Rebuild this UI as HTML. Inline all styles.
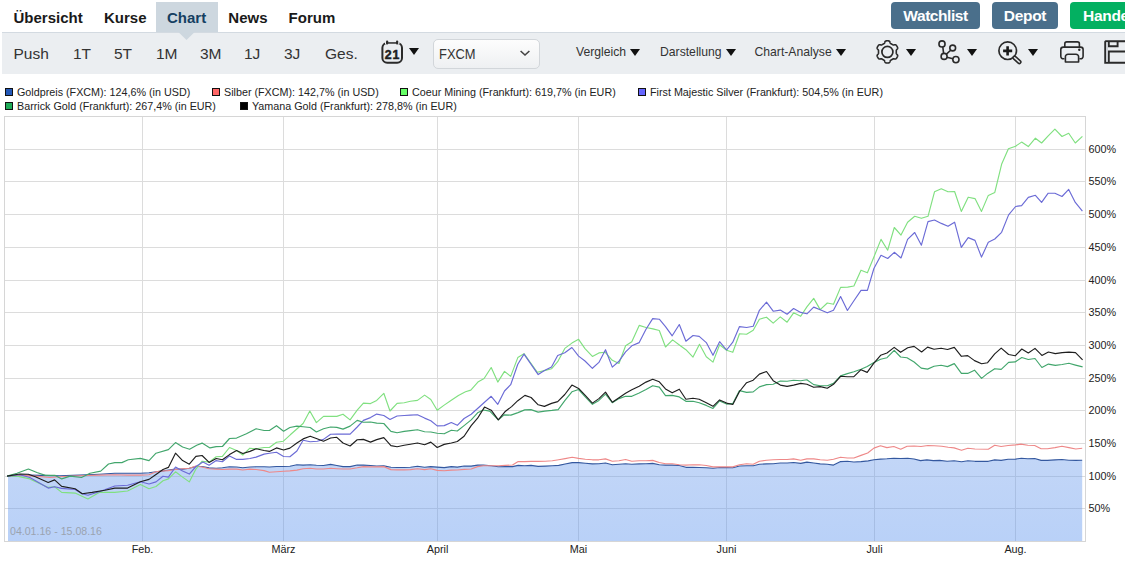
<!DOCTYPE html>
<html lang="de">
<head>
<meta charset="utf-8">
<title>Chart</title>
<style>
*{box-sizing:border-box;margin:0;padding:0}
html,body{width:1125px;height:564px;overflow:hidden;background:#fff}
body{position:relative;font-family:"Liberation Sans",sans-serif;color:#222}
.abs{position:absolute;white-space:nowrap}
.nav{position:absolute;top:0;left:0;width:1125px;height:32px}
.nav .t{position:absolute;top:7.7px;font-size:15px;font-weight:bold;color:#1a1a1a;line-height:20px}
.nav .act{position:absolute;left:156px;top:2px;width:62px;height:30px;background:#cdd7df}

.btn{position:absolute;top:2px;height:27px;border-radius:4px;color:#fff;font-size:15.5px;font-weight:bold;line-height:27px;text-align:center}
.bar{position:absolute;left:2px;top:32px;width:1123px;height:42px;background:#ebeef1;border-top:1px solid #d3dae1}
.bar .p{position:absolute;top:11px;font-size:15.5px;color:#333;line-height:20px}
.bar .d{position:absolute;top:11px;font-size:12.2px;color:#333;line-height:16px}
.tri{position:absolute;width:0;height:0;border-left:5.8px solid transparent;border-right:5.8px solid transparent;border-top:7px solid #111}
.sel{position:absolute;left:430.5px;top:6px;width:107px;height:29.5px;border:1px solid #d2d6da;border-radius:5px;background:linear-gradient(#fdfdfd,#eef0f2)}
.leg{position:absolute;font-size:10.75px;color:#222;line-height:13px}
.sq{position:absolute;width:8px;height:8px;border:1px solid #111}
.yl{position:absolute;left:1088.6px;font-size:10.8px;line-height:13px;color:#222}
.xl{position:absolute;top:543px;width:80px;text-align:center;font-size:10.8px;line-height:13px;color:#222}
.chart{position:absolute;left:0;top:0}
</style>
</head>
<body>
<!-- top nav -->
<div class="nav">
  <div class="t" style="left:13.5px">Übersicht</div>
  <div class="t" style="left:104px">Kurse</div>
  <div class="act"></div>
  <div class="t" style="left:167px;color:#153f62">Chart</div>
  <div class="t" style="left:228.3px">News</div>
  <div class="t" style="left:288.6px">Forum</div>
</div>
<div class="btn" style="left:891px;width:89px;background:#4a6f8b;letter-spacing:-0.45px">Watchlist</div>
<div class="btn" style="left:992px;width:66px;background:#4a6f8b;letter-spacing:-0.3px">Depot</div>
<div class="btn" style="left:1070px;width:70px;background:#03b061;text-align:left;padding-left:13px;letter-spacing:-0.3px">Handel</div>

<!-- toolbar -->
<div class="bar">
  <div class="p" style="left:11.5px">Push</div>
  <div class="p" style="left:71px">1T</div>
  <div class="p" style="left:112px">5T</div>
  <div class="p" style="left:154px">1M</div>
  <div class="p" style="left:198px">3M</div>
  <div class="p" style="left:242px">1J</div>
  <div class="p" style="left:282px">3J</div>
  <div class="p" style="left:323px">Ges.</div>
  <div class="tri" style="left:407px;top:15px"></div>
  <div class="sel"></div>
  <div class="p" style="left:437px;top:11px;font-size:15px;transform:scaleX(0.86);transform-origin:0 0">FXCM</div>
  <div class="d" style="left:574px">Vergleich</div>
  <div class="tri" style="left:628px;top:16px"></div>
  <div class="d" style="left:658px">Darstellung</div>
  <div class="tri" style="left:723.5px;top:16px"></div>
  <div class="d" style="left:752.5px">Chart-Analyse</div>
  <div class="tri" style="left:834px;top:16px"></div>
  <div class="tri" style="left:903.5px;top:16px"></div>
  <div class="tri" style="left:964.5px;top:16px"></div>
  <div class="tri" style="left:1026px;top:16px"></div>
</div>

<svg class="abs" style="left:0;top:0" width="1125" height="80" viewBox="0 0 1125 80">
  <!-- Chart tab pointer -->
  <path d="M178.3 32 L194.7 32 L186.5 40 Z" fill="#cdd7df"/>
  <!-- calendar -->
  <rect x="382.4" y="43" width="19.6" height="19.8" rx="4.8" fill="none" stroke="#2a2a2a" stroke-width="2"/>
  <rect x="385" y="40.5" width="14.5" height="3.6" fill="#ebeef1"/>
  <rect x="386" y="40.6" width="2.2" height="4" rx="1" fill="#2a2a2a"/>
  <rect x="396" y="40.6" width="2.2" height="4" rx="1" fill="#2a2a2a"/>
  <rect x="388" y="42.2" width="8" height="1.5" fill="#2a2a2a"/>
  <text x="392.4" y="58.7" text-anchor="middle" font-family="Liberation Sans" font-weight="bold" font-size="12.3" fill="#1e1e1e" stroke="#1e1e1e" stroke-width="0.5" letter-spacing="0.8">21</text>
  <!-- select chevron -->
  <path d="M520.6 51 L525 55 L529.4 51" fill="none" stroke="#444" stroke-width="1.6"/>
  <!-- gear -->
  <path d="M896.30,51.90 L896.30,52.06 L896.30,52.21 L896.29,52.37 L896.29,52.52 L896.28,52.68 L896.28,52.83 L896.28,52.99 L896.28,53.15 L896.30,53.31 L896.33,53.47 L896.39,53.65 L896.49,53.83 L896.64,54.03 L896.84,54.25 L897.06,54.49 L897.28,54.73 L897.46,54.97 L897.58,55.21 L897.65,55.43 L897.67,55.64 L897.66,55.84 L897.63,56.03 L897.58,56.22 L897.52,56.40 L897.45,56.58 L897.37,56.76 L897.29,56.94 L897.20,57.11 L897.11,57.28 L897.01,57.45 L896.91,57.62 L896.81,57.78 L896.71,57.94 L896.59,58.10 L896.48,58.26 L896.36,58.41 L896.23,58.55 L896.09,58.69 L895.94,58.82 L895.77,58.93 L895.58,59.01 L895.36,59.06 L895.09,59.07 L894.79,59.04 L894.47,58.97 L894.16,58.90 L893.87,58.84 L893.62,58.81 L893.41,58.81 L893.23,58.85 L893.07,58.90 L892.92,58.97 L892.78,59.04 L892.65,59.12 L892.51,59.20 L892.38,59.29 L892.25,59.37 L892.12,59.45 L891.98,59.53 L891.85,59.61 L891.72,59.68 L891.58,59.76 L891.44,59.83 L891.31,59.91 L891.17,59.98 L891.03,60.06 L890.89,60.13 L890.76,60.22 L890.63,60.31 L890.50,60.42 L890.38,60.56 L890.27,60.74 L890.17,60.97 L890.08,61.25 L889.99,61.56 L889.89,61.87 L889.77,62.15 L889.63,62.37 L889.47,62.54 L889.30,62.67 L889.12,62.76 L888.94,62.82 L888.75,62.87 L888.56,62.91 L888.37,62.94 L888.17,62.96 L887.98,62.98 L887.79,62.99 L887.59,63.00 L887.40,63.00 L887.21,63.00 L887.01,62.99 L886.82,62.98 L886.63,62.96 L886.43,62.94 L886.24,62.91 L886.05,62.87 L885.86,62.82 L885.68,62.76 L885.50,62.67 L885.33,62.54 L885.17,62.37 L885.03,62.15 L884.91,61.87 L884.81,61.56 L884.72,61.25 L884.63,60.97 L884.53,60.74 L884.42,60.56 L884.30,60.42 L884.17,60.31 L884.04,60.22 L883.91,60.13 L883.77,60.06 L883.63,59.98 L883.49,59.91 L883.36,59.83 L883.22,59.76 L883.08,59.68 L882.95,59.61 L882.82,59.53 L882.68,59.45 L882.55,59.37 L882.42,59.29 L882.29,59.20 L882.15,59.12 L882.02,59.04 L881.88,58.97 L881.73,58.90 L881.57,58.85 L881.39,58.81 L881.18,58.81 L880.93,58.84 L880.64,58.90 L880.33,58.97 L880.01,59.04 L879.71,59.07 L879.44,59.06 L879.22,59.01 L879.03,58.93 L878.86,58.82 L878.71,58.69 L878.57,58.55 L878.44,58.41 L878.32,58.26 L878.21,58.10 L878.09,57.94 L877.99,57.78 L877.89,57.62 L877.79,57.45 L877.69,57.28 L877.60,57.11 L877.51,56.94 L877.43,56.76 L877.35,56.58 L877.28,56.40 L877.22,56.22 L877.17,56.03 L877.14,55.84 L877.13,55.64 L877.15,55.43 L877.22,55.21 L877.34,54.97 L877.52,54.73 L877.74,54.49 L877.96,54.25 L878.16,54.03 L878.31,53.83 L878.41,53.65 L878.47,53.47 L878.50,53.31 L878.52,53.15 L878.52,52.99 L878.52,52.83 L878.52,52.68 L878.51,52.52 L878.51,52.37 L878.50,52.21 L878.50,52.06 L878.50,51.90 L878.50,51.74 L878.50,51.59 L878.51,51.43 L878.51,51.28 L878.52,51.12 L878.52,50.97 L878.52,50.81 L878.52,50.65 L878.50,50.49 L878.47,50.33 L878.41,50.15 L878.31,49.97 L878.16,49.77 L877.96,49.55 L877.74,49.31 L877.52,49.07 L877.34,48.83 L877.22,48.59 L877.15,48.37 L877.13,48.16 L877.14,47.96 L877.17,47.77 L877.22,47.58 L877.28,47.40 L877.35,47.22 L877.43,47.04 L877.51,46.86 L877.60,46.69 L877.69,46.52 L877.79,46.35 L877.89,46.18 L877.99,46.02 L878.09,45.86 L878.21,45.70 L878.32,45.54 L878.44,45.39 L878.57,45.25 L878.71,45.11 L878.86,44.98 L879.03,44.87 L879.22,44.79 L879.44,44.74 L879.71,44.73 L880.01,44.76 L880.33,44.83 L880.64,44.90 L880.93,44.96 L881.18,44.99 L881.39,44.99 L881.57,44.95 L881.73,44.90 L881.88,44.83 L882.02,44.76 L882.15,44.68 L882.29,44.60 L882.42,44.51 L882.55,44.43 L882.68,44.35 L882.82,44.27 L882.95,44.19 L883.08,44.12 L883.22,44.04 L883.36,43.97 L883.49,43.89 L883.63,43.82 L883.77,43.74 L883.91,43.67 L884.04,43.58 L884.17,43.49 L884.30,43.38 L884.42,43.24 L884.53,43.06 L884.63,42.83 L884.72,42.55 L884.81,42.24 L884.91,41.93 L885.03,41.65 L885.17,41.43 L885.33,41.26 L885.50,41.13 L885.68,41.04 L885.86,40.98 L886.05,40.93 L886.24,40.89 L886.43,40.86 L886.63,40.84 L886.82,40.82 L887.01,40.81 L887.21,40.80 L887.40,40.80 L887.59,40.80 L887.79,40.81 L887.98,40.82 L888.17,40.84 L888.37,40.86 L888.56,40.89 L888.75,40.93 L888.94,40.98 L889.12,41.04 L889.30,41.13 L889.47,41.26 L889.63,41.43 L889.77,41.65 L889.89,41.93 L889.99,42.24 L890.08,42.55 L890.17,42.83 L890.27,43.06 L890.38,43.24 L890.50,43.38 L890.63,43.49 L890.76,43.58 L890.89,43.67 L891.03,43.74 L891.17,43.82 L891.31,43.89 L891.44,43.97 L891.58,44.04 L891.72,44.12 L891.85,44.19 L891.98,44.27 L892.12,44.35 L892.25,44.43 L892.38,44.51 L892.51,44.60 L892.65,44.68 L892.78,44.76 L892.92,44.83 L893.07,44.90 L893.23,44.95 L893.41,44.99 L893.62,44.99 L893.87,44.96 L894.16,44.90 L894.47,44.83 L894.79,44.76 L895.09,44.73 L895.36,44.74 L895.58,44.79 L895.77,44.87 L895.94,44.98 L896.09,45.11 L896.23,45.25 L896.36,45.39 L896.48,45.54 L896.59,45.70 L896.71,45.86 L896.81,46.02 L896.91,46.18 L897.01,46.35 L897.11,46.52 L897.20,46.69 L897.29,46.86 L897.37,47.04 L897.45,47.22 L897.52,47.40 L897.58,47.58 L897.63,47.77 L897.66,47.96 L897.67,48.16 L897.65,48.37 L897.58,48.59 L897.46,48.83 L897.28,49.07 L897.06,49.31 L896.84,49.55 L896.64,49.77 L896.49,49.97 L896.39,50.15 L896.33,50.33 L896.30,50.49 L896.28,50.65 L896.28,50.81 L896.28,50.97 L896.28,51.12 L896.29,51.28 L896.29,51.43 L896.30,51.59 L896.30,51.74Z" fill="none" stroke="#2a2a2a" stroke-width="1.6" stroke-linejoin="round"/><circle cx="887.4" cy="51.9" r="5.5" fill="none" stroke="#2a2a2a" stroke-width="1.7"/>
  <!-- network -->
  <g fill="none" stroke="#2a2a2a" stroke-width="1.6">
    <circle cx="942" cy="43.9" r="3.05"/>
    <circle cx="952.7" cy="48" r="2.9"/>
    <circle cx="944.1" cy="56.4" r="3"/>
    <circle cx="955.9" cy="59.6" r="3.1"/>
    <path d="M942.8 46.9 L943.6 53.3 M946.4 54.2 L950.4 50.5 M947 57.2 L952.9 58.8"/>
  </g>
  <!-- zoom -->
  <circle cx="1007.7" cy="50.7" r="8.8" fill="none" stroke="#2a2a2a" stroke-width="1.7"/>
  <path d="M1003.1 50.9 H1012.2 M1007.6 46.2 V55.6" stroke="#1a1a1a" stroke-width="2.6"/>
  <path d="M1014.6 57.8 L1019.3 62" stroke="#2a2a2a" stroke-width="4.6" stroke-linecap="round"/>
  <path d="M1014.6 57.8 L1019.3 62" stroke="#ebeef1" stroke-width="1.5" stroke-linecap="round"/>
  <!-- printer -->
  <g fill="none" stroke="#2a2a2a" stroke-width="1.6">
    <path d="M1064.8 47 V43.9 a2 2 0 0 1 2 -2 H1077.4 a2 2 0 0 1 2 2 V47"/>
    <path d="M1064.5 58.8 H1063.3 a2.5 2.5 0 0 1 -2.5 -2.5 V49.6 a2.5 2.5 0 0 1 2.5 -2.5 H1080.6 a2.5 2.5 0 0 1 2.5 2.5 V56.3 a2.5 2.5 0 0 1 -2.5 2.5 H1079.4"/>
    <path d="M1065.4 62 V56.8 a2.6 2.6 0 0 1 2.6 -2.6 H1076 a2.6 2.6 0 0 1 2.6 2.6 V62 Z" stroke-linejoin="round"/>
  </g>
  <circle cx="1079.3" cy="49.7" r="1.2" fill="#2a2a2a"/>
  <!-- save -->
  <g fill="none" stroke="#2a2a2a" stroke-width="1.9">
    <path d="M1105.2 41.2 H1128 M1105.2 41.2 V62.7 H1128 M1106.2 41.2 a1 1 0 0 0 -1 1"/>
    <path d="M1108.8 41.2 V46.3 H1117.6 V41.2"/>
    <path d="M1108.8 62.7 V51.5 H1128"/>
  </g>
  <rect x="1106.2" y="42.2" width="1.6" height="19.6" fill="#c9cdd1"/>
</svg>

<!-- legend -->
<div class="sq" style="left:5px;top:88px;background:#2358b8"></div>
<div class="leg" style="left:17px;top:86px">Goldpreis (FXCM): 124,6% (in USD)</div>
<div class="sq" style="left:212px;top:88px;background:#f66"></div>
<div class="leg" style="left:224px;top:86px">Silber (FXCM): 142,7% (in USD)</div>
<div class="sq" style="left:400px;top:88px;background:#6f6"></div>
<div class="leg" style="left:412px;top:86px">Coeur Mining (Frankfurt): 619,7% (in EUR)</div>
<div class="sq" style="left:638px;top:88px;background:#66f"></div>
<div class="leg" style="left:650px;top:86px">First Majestic Silver (Frankfurt): 504,5% (in EUR)</div>
<div class="sq" style="left:5px;top:102px;background:#1fab58"></div>
<div class="leg" style="left:17px;top:100px">Barrick Gold (Frankfurt): 267,4% (in EUR)</div>
<div class="sq" style="left:240px;top:102px;background:#000"></div>
<div class="leg" style="left:252px;top:100px">Yamana Gold (Frankfurt): 278,8% (in EUR)</div>

<!-- chart -->
<svg class="chart" width="1125" height="564" viewBox="0 0 1125 564">
<defs><linearGradient id="gf" x1="0" y1="0" x2="0" y2="1"><stop offset="0" stop-color="rgb(110,157,236)"/><stop offset="1" stop-color="rgb(88,145,238)"/></linearGradient></defs>
<rect x="4" y="508" width="1082" height="1" fill="#dcdcdc"/>
<rect x="4" y="476" width="1082" height="1" fill="#dcdcdc"/>
<rect x="4" y="443" width="1082" height="1" fill="#dcdcdc"/>
<rect x="4" y="410" width="1082" height="1" fill="#dcdcdc"/>
<rect x="4" y="378" width="1082" height="1" fill="#dcdcdc"/>
<rect x="4" y="345" width="1082" height="1" fill="#dcdcdc"/>
<rect x="4" y="312" width="1082" height="1" fill="#dcdcdc"/>
<rect x="4" y="280" width="1082" height="1" fill="#dcdcdc"/>
<rect x="4" y="247" width="1082" height="1" fill="#dcdcdc"/>
<rect x="4" y="214" width="1082" height="1" fill="#dcdcdc"/>
<rect x="4" y="181" width="1082" height="1" fill="#dcdcdc"/>
<rect x="4" y="149" width="1082" height="1" fill="#dcdcdc"/>
<rect x="142" y="116" width="1" height="425" fill="#dcdcdc"/>
<rect x="283" y="116" width="1" height="425" fill="#dcdcdc"/>
<rect x="437" y="116" width="1" height="425" fill="#dcdcdc"/>
<rect x="578" y="116" width="1" height="425" fill="#dcdcdc"/>
<rect x="726" y="116" width="1" height="425" fill="#dcdcdc"/>
<rect x="874" y="116" width="1" height="425" fill="#dcdcdc"/>
<rect x="1015" y="116" width="1" height="425" fill="#dcdcdc"/>
<polygon points="8,476.1 17.0,475.7 28.4,475.1 42.5,475.4 59.5,475.7 79.4,475.1 99.2,474.2 114.8,473.2 127.6,473.2 140.4,473.2 149.0,472.8 156.0,471.8 163.0,470.9 168.4,470.0 175.5,469.1 182.6,469.1 189.3,468.3 195.9,466.5 202.1,466.5 209.1,467.9 216.2,468.3 222.4,467.7 229.5,466.7 236.6,467.0 242.8,467.7 249.9,467.0 256.1,466.7 264.1,466.7 269.4,467.0 276.5,466.5 283.6,466.5 289.9,466.3 296.9,464.8 303.1,465.1 310.2,464.8 316.4,465.3 323.5,465.5 330.6,464.4 336.8,465.5 343.0,466.6 350.1,466.6 357.2,465.0 363.4,465.1 370.5,465.5 376.7,466.0 383.8,465.9 390.9,467.3 397.1,467.5 404.2,467.5 410.4,467.3 417.5,466.2 424.6,467.3 430.8,466.6 437.2,467.1 444.2,467.6 451.3,466.6 457.3,467.1 464.1,466.0 471.2,466.1 477.6,465.1 483.3,465.1 491.2,465.7 498.3,466.8 505.4,466.6 512.5,466.6 518.2,465.4 524.6,465.8 531.0,465.4 538.1,466.4 545.2,466.1 552.3,465.7 558.7,465.4 565.1,464.0 572.2,462.6 578.6,462.6 585.3,463.2 592.4,463.9 598.9,463.7 605.5,463.0 612.3,464.8 619.0,464.3 625.6,463.7 631.8,464.3 639.2,463.9 646.0,463.7 652.7,463.4 659.3,464.8 665.5,465.1 672.2,465.1 679.3,465.5 685.9,467.3 693.0,467.3 699.2,467.5 706.3,467.8 713.0,468.3 719.6,467.5 726.6,467.6 732.8,467.8 739.5,466.0 746.6,465.7 753.2,465.7 759.4,464.3 766.5,463.9 773.2,463.7 780.3,463.0 787.1,463.0 793.6,462.5 800.7,463.4 806.9,462.1 813.7,463.0 820.2,463.9 827.3,464.3 833.5,465.1 840.6,461.6 847.4,461.2 853.9,462.0 861.0,461.6 868.2,460.9 873.9,459.7 880.5,459.1 886.9,458.8 893.8,458.3 900.7,458.5 907.7,458.3 914.1,459.0 920.5,460.6 926.9,459.9 933.3,460.6 939.7,460.4 947.1,461.3 954.1,460.7 961.5,461.7 967.9,460.7 974.9,461.3 988.3,461.3 994.7,459.9 1001.1,460.4 1008.1,459.3 1015.5,459.1 1021.4,458.3 1027.8,458.8 1034.7,458.5 1041.1,460.4 1047.5,460.4 1055.0,459.9 1061.9,459.5 1068.9,460.2 1075.8,460.4 1082.2,460.2 1082.2,541 8,541" fill="url(#gf)" fill-opacity="0.42"/>
<rect x="4.5" y="116.5" width="1081" height="425" fill="none" stroke="#d6d6d6" stroke-width="1"/>
<polyline points="7.1,476.1 17.0,475.7 28.4,475.1 42.5,475.4 59.5,475.7 79.4,475.1 99.2,474.2 114.8,473.2 127.6,473.2 140.4,473.2 149.0,472.8 156.0,471.8 163.0,470.9 168.4,470.0 175.5,469.1 182.6,469.1 189.3,468.3 195.9,466.5 202.1,466.5 209.1,467.9 216.2,468.3 222.4,467.7 229.5,466.7 236.6,467.0 242.8,467.7 249.9,467.0 256.1,466.7 264.1,466.7 269.4,467.0 276.5,466.5 283.6,466.5 289.9,466.3 296.9,464.8 303.1,465.1 310.2,464.8 316.4,465.3 323.5,465.5 330.6,464.4 336.8,465.5 343.0,466.6 350.1,466.6 357.2,465.0 363.4,465.1 370.5,465.5 376.7,466.0 383.8,465.9 390.9,467.3 397.1,467.5 404.2,467.5 410.4,467.3 417.5,466.2 424.6,467.3 430.8,466.6 437.2,467.1 444.2,467.6 451.3,466.6 457.3,467.1 464.1,466.0 471.2,466.1 477.6,465.1 483.3,465.1 491.2,465.7 498.3,466.8 505.4,466.6 512.5,466.6 518.2,465.4 524.6,465.8 531.0,465.4 538.1,466.4 545.2,466.1 552.3,465.7 558.7,465.4 565.1,464.0 572.2,462.6 578.6,462.6 585.3,463.2 592.4,463.9 598.9,463.7 605.5,463.0 612.3,464.8 619.0,464.3 625.6,463.7 631.8,464.3 639.2,463.9 646.0,463.7 652.7,463.4 659.3,464.8 665.5,465.1 672.2,465.1 679.3,465.5 685.9,467.3 693.0,467.3 699.2,467.5 706.3,467.8 713.0,468.3 719.6,467.5 726.6,467.6 732.8,467.8 739.5,466.0 746.6,465.7 753.2,465.7 759.4,464.3 766.5,463.9 773.2,463.7 780.3,463.0 787.1,463.0 793.6,462.5 800.7,463.4 806.9,462.1 813.7,463.0 820.2,463.9 827.3,464.3 833.5,465.1 840.6,461.6 847.4,461.2 853.9,462.0 861.0,461.6 868.2,460.9 873.9,459.7 880.5,459.1 886.9,458.8 893.8,458.3 900.7,458.5 907.7,458.3 914.1,459.0 920.5,460.6 926.9,459.9 933.3,460.6 939.7,460.4 947.1,461.3 954.1,460.7 961.5,461.7 967.9,460.7 974.9,461.3 988.3,461.3 994.7,459.9 1001.1,460.4 1008.1,459.3 1015.5,459.1 1021.4,458.3 1027.8,458.8 1034.7,458.5 1041.1,460.4 1047.5,460.4 1055.0,459.9 1061.9,459.5 1068.9,460.2 1075.8,460.4 1082.2,460.2" fill="none" stroke="#34589f" stroke-width="1.15" stroke-linejoin="round"/>
<polyline points="7.1,476.1 19.8,475.1 35.4,476.1 49.6,477.5 63.8,476.5 79.4,475.7 99.2,475.1 114.8,474.7 127.6,475.1 140.4,475.1 149.0,474.8 156.0,471.8 163.0,470.9 168.4,470.6 175.5,469.5 182.6,468.8 189.3,468.3 195.9,466.0 202.1,467.0 209.1,468.8 216.2,469.1 222.4,469.5 229.5,469.1 236.6,469.1 242.8,470.0 249.9,469.1 256.1,469.5 264.1,470.6 269.4,472.3 276.5,471.8 283.6,471.3 289.9,470.9 296.9,470.1 303.1,468.7 310.2,468.2 316.4,469.0 323.5,469.0 330.6,468.3 336.8,468.7 343.0,469.0 350.1,469.0 357.2,467.8 363.4,466.6 370.5,466.9 376.7,466.9 383.8,466.6 390.9,469.6 397.1,469.9 404.2,469.9 410.4,469.6 417.5,468.7 424.6,469.6 430.8,468.7 437.2,470.4 444.2,470.8 451.3,470.1 457.3,470.0 464.1,469.4 471.2,469.0 477.6,466.6 483.3,465.7 491.2,465.7 498.3,465.7 505.4,465.4 512.5,465.0 518.2,461.6 524.6,461.6 531.0,461.4 538.1,461.4 545.2,461.2 552.3,460.7 558.7,459.7 565.1,458.6 572.2,457.3 578.6,458.4 585.3,459.2 592.4,459.8 598.9,459.8 605.5,458.9 612.3,461.2 619.0,460.7 625.6,459.5 631.8,461.2 639.2,460.7 646.0,460.7 652.7,460.4 659.3,462.5 665.5,463.7 672.2,463.7 679.3,464.8 685.9,465.1 693.0,464.8 699.2,464.8 706.3,465.5 713.0,466.9 719.6,466.9 726.6,466.9 732.8,466.9 739.5,464.8 746.6,463.7 753.2,464.3 759.4,461.2 766.5,460.2 773.2,459.8 780.3,459.5 787.1,459.5 793.6,458.9 800.7,460.2 806.9,458.9 813.7,458.9 820.2,459.8 827.3,460.2 833.5,459.3 840.6,457.2 847.4,458.0 853.9,458.0 861.0,455.4 867.7,453.0 873.9,448.1 880.5,445.8 886.9,447.6 893.8,446.5 900.7,449.2 907.1,446.2 914.1,446.0 921.0,446.5 927.9,445.5 934.3,445.7 941.8,446.3 948.2,447.3 954.1,447.9 961.5,450.3 967.9,448.3 974.9,449.0 988.3,449.2 994.7,445.3 1001.1,446.5 1008.1,445.5 1015.5,444.9 1020.9,444.1 1027.8,445.3 1034.7,445.5 1041.1,448.7 1047.5,448.7 1055.0,447.6 1061.9,446.3 1068.9,447.6 1075.8,449.0 1082.2,448.3" fill="none" stroke="#ee8888" stroke-width="1.15" stroke-linejoin="round"/>
<polyline points="7.1,476.1 17.0,476.1 29.8,478.9 48.2,487.4 54.6,486.7 61.7,492.4 75.1,493.1 87.9,499.0 99.2,492.4 114.8,492.4 127.6,491.0 140.4,484.6 149.0,488.7 156.0,486.5 163.0,480.7 168.4,478.9 175.5,471.8 182.6,477.1 189.3,481.9 195.9,469.1 202.1,461.2 209.1,462.1 216.2,456.7 222.4,456.4 229.5,447.5 236.6,450.5 242.8,455.0 249.9,448.2 256.1,448.8 264.1,447.5 269.4,447.5 276.5,442.2 283.4,441.2 290.3,434.8 303.1,423.5 309.8,411.0 316.4,422.6 323.5,416.4 330.6,416.4 336.8,416.4 343.0,414.2 350.1,419.9 357.2,410.2 363.4,403.1 370.5,403.6 376.7,400.4 383.8,393.3 390.0,411.0 397.1,403.4 404.2,402.7 410.4,401.3 417.5,400.4 424.6,395.1 430.8,399.5 437.2,410.3 444.2,405.1 451.3,400.2 458.4,395.4 465.5,391.8 470.8,390.1 477.9,382.1 484.1,378.5 491.2,367.5 497.8,382.1 504.5,371.4 510.7,376.4 517.8,357.6 524.0,353.7 531.1,363.5 537.3,372.3 544.4,370.6 551.5,368.8 557.7,361.7 564.8,348.4 571.9,343.1 578.6,339.3 585.0,348.6 592.4,356.4 598.9,352.9 605.2,352.3 612.3,360.3 619.0,363.5 625.6,345.8 631.8,341.7 639.2,325.4 646.0,327.5 653.0,328.9 659.3,330.5 665.5,347.0 672.6,339.9 679.7,345.2 685.9,349.7 693.0,357.1 699.5,344.3 706.3,356.8 713.0,362.1 719.6,344.7 726.6,350.3 732.8,352.3 739.5,333.7 746.6,334.2 753.2,330.2 759.4,319.2 766.5,317.2 773.2,323.1 780.3,316.9 787.1,322.2 793.6,312.8 800.7,316.3 806.9,306.9 813.7,298.4 820.2,309.6 827.3,303.0 833.5,304.3 840.6,287.4 847.7,287.1 853.9,286.0 861.0,270.2 867.4,272.8 873.9,257.0 881.0,239.4 887.7,250.2 894.3,227.5 901.0,235.1 907.6,222.2 914.7,216.3 921.4,218.3 928.0,216.3 934.5,191.8 941.3,188.8 948.0,191.8 954.6,191.5 961.3,211.4 968.2,197.2 975.0,198.6 981.5,211.4 988.3,195.4 994.8,192.4 1001.6,164.3 1008.4,148.7 1015.6,146.2 1021.6,142.1 1028.3,146.6 1035.4,138.2 1041.6,143.0 1048.2,135.9 1054.9,129.2 1062.0,136.5 1068.7,133.3 1075.3,143.0 1082.4,136.3" fill="none" stroke="#80e080" stroke-width="1.15" stroke-linejoin="round"/>
<polyline points="7.1,476.1 19.8,474.7 29.8,477.5 48.2,488.1 54.6,486.7 61.7,488.4 75.1,489.5 82.2,493.8 87.9,495.2 99.2,491.7 114.8,486.0 127.6,485.3 140.4,481.7 149.0,484.0 156.0,481.9 163.0,476.2 168.4,477.1 175.5,467.0 182.6,470.9 189.3,474.1 195.9,466.5 202.9,462.1 209.1,465.2 216.2,460.6 222.4,461.7 229.5,455.9 236.6,459.4 242.8,459.4 249.9,458.5 256.1,457.1 264.1,454.1 269.4,453.2 276.5,452.3 283.6,456.5 289.9,456.7 296.9,451.0 303.1,440.3 310.2,441.7 317.3,441.2 323.5,439.4 330.6,434.3 336.8,434.1 343.9,434.1 350.1,434.1 357.2,427.0 363.4,420.4 370.5,417.6 376.7,414.1 383.8,415.5 390.0,419.4 397.1,416.0 404.2,415.5 410.4,415.1 417.5,414.8 424.6,418.1 430.8,420.8 437.2,425.9 444.2,425.6 451.3,422.5 457.3,425.3 464.1,418.5 471.2,414.2 491.2,396.3 497.8,404.3 504.5,391.0 510.7,384.7 517.8,364.3 524.0,354.1 531.1,364.3 538.2,374.6 544.4,370.6 551.5,367.0 557.7,355.5 564.8,352.8 571.9,347.5 578.6,356.1 585.0,361.0 592.4,368.3 598.9,362.4 605.5,349.7 612.3,367.1 619.0,361.2 625.6,351.8 631.8,345.8 639.2,342.6 646.0,329.3 652.7,318.6 659.3,319.2 665.5,326.6 672.2,335.8 679.3,324.5 685.9,341.2 693.0,335.5 699.2,336.4 706.3,342.6 713.0,355.3 719.6,341.7 726.6,350.0 732.8,342.2 739.5,326.6 746.6,327.5 753.2,326.3 759.4,310.3 766.5,302.1 773.2,311.2 780.3,310.1 787.1,314.2 793.6,308.5 800.7,312.4 806.9,313.8 813.7,307.1 820.2,309.8 827.3,312.8 833.5,310.3 840.6,296.6 847.4,310.5 853.9,300.7 861.0,290.4 867.4,290.4 873.9,268.5 881.0,255.3 887.7,258.5 894.3,252.3 901.0,258.0 907.6,239.4 914.7,232.5 921.4,245.2 928.0,221.6 934.5,220.0 941.3,223.4 948.0,226.3 954.6,222.2 961.3,247.4 968.2,237.6 975.0,240.4 981.5,257.1 988.3,242.2 994.8,239.0 1001.6,232.3 1008.6,214.9 1015.6,206.5 1021.6,205.6 1028.3,197.4 1035.4,195.3 1041.6,202.4 1048.2,193.2 1054.9,193.2 1062.0,196.5 1068.7,189.4 1075.3,202.4 1082.4,211.2" fill="none" stroke="#6b6bd6" stroke-width="1.15" stroke-linejoin="round"/>
<polyline points="7.1,476.1 17.0,473.2 28.4,469.0 36.9,472.5 45.4,475.4 55.3,475.4 61.7,478.9 70.2,476.1 81.5,477.5 90.0,473.2 100.7,471.1 108.5,464.0 114.8,462.6 121.9,462.6 128.3,459.8 140.4,458.4 149.0,460.6 156.0,453.2 168.4,449.6 175.5,442.6 182.6,447.0 189.6,449.3 196.7,445.2 202.1,443.1 210.0,447.9 216.2,446.6 222.4,446.5 229.5,438.5 236.6,438.1 246.4,433.7 256.1,428.7 264.1,430.5 269.4,430.5 276.5,425.7 283.6,431.2 289.9,427.5 296.9,426.1 303.1,426.7 310.2,427.5 316.4,432.0 323.5,428.8 330.6,427.0 336.8,427.4 343.0,429.1 350.1,426.1 357.2,420.4 363.4,422.2 370.5,422.0 376.7,423.1 383.8,423.5 390.9,431.4 397.1,432.7 404.2,431.4 410.4,430.6 417.5,429.7 424.6,431.8 430.8,432.0 437.2,433.3 444.2,433.8 451.3,430.2 457.3,431.0 464.1,425.6 471.2,419.9 477.6,412.8 483.3,410.0 489.7,411.1 498.3,419.9 504.2,414.9 510.9,415.1 518.0,412.6 524.7,409.9 531.0,409.6 538.1,412.1 544.8,411.1 551.9,410.4 558.2,409.6 564.8,400.7 571.9,391.8 578.6,389.5 585.0,396.6 592.4,404.3 598.9,400.4 605.5,394.2 612.3,402.7 619.0,398.6 625.6,396.3 631.8,396.3 639.2,392.9 646.0,389.4 652.7,385.7 659.3,387.1 665.5,395.6 672.2,395.4 679.3,396.9 685.9,401.3 693.0,401.3 699.2,402.7 706.3,405.4 713.0,408.4 719.6,400.9 726.6,404.1 732.8,403.4 739.5,390.6 746.6,392.4 753.2,391.9 759.4,386.9 766.5,384.6 773.2,384.3 780.3,381.1 787.1,381.2 793.6,380.2 800.7,380.7 806.9,379.8 813.7,384.6 820.2,385.7 827.3,385.7 833.5,383.4 840.6,375.9 847.4,373.6 853.9,371.8 861.0,369.2 867.2,366.4 873.5,362.7 880.6,359.2 887.0,357.7 894.2,350.3 900.6,357.0 907.0,357.7 914.1,362.0 921.2,368.1 927.6,369.1 934.0,366.3 941.1,365.3 947.5,366.6 954.3,363.6 961.4,373.4 967.7,373.4 974.5,370.2 981.6,378.4 987.6,373.4 994.7,368.7 1001.2,369.4 1008.6,362.4 1015.2,361.9 1021.8,357.5 1028.3,359.5 1035.0,358.5 1041.9,367.5 1048.4,364.1 1055.3,365.4 1062.1,364.5 1068.9,363.3 1075.5,365.1 1082.6,366.9" fill="none" stroke="#42a66c" stroke-width="1.15" stroke-linejoin="round"/>
<polyline points="7.1,476.1 19.8,474.0 28.4,474.2 35.4,476.8 48.2,482.5 54.6,479.9 61.7,486.4 75.1,488.8 82.2,493.8 92.2,492.4 104.9,490.3 114.8,488.1 127.6,488.1 140.4,481.7 149.0,479.4 156.0,474.5 163.0,469.5 168.4,467.4 175.5,453.2 182.6,460.6 189.3,464.2 195.9,456.4 202.1,455.5 209.1,462.4 216.2,458.5 222.4,459.8 229.5,454.6 236.6,450.5 242.8,453.5 249.9,451.4 256.1,448.8 264.1,450.5 269.4,451.4 276.5,447.9 283.6,450.0 289.9,448.1 296.9,443.0 303.1,438.9 310.2,436.2 316.4,438.5 323.5,441.2 330.6,438.0 336.8,437.3 343.0,443.0 350.1,446.0 357.2,439.8 363.4,439.4 370.5,442.1 376.7,439.6 383.8,437.6 390.9,445.6 397.1,446.7 404.2,445.3 410.4,444.2 417.5,443.0 424.6,444.7 430.8,442.1 437.2,447.5 444.2,444.4 451.3,443.0 457.3,441.5 464.1,436.3 471.2,425.6 477.6,418.2 484.5,407.1 491.2,410.2 498.3,419.9 504.9,411.8 511.6,406.6 517.8,400.7 524.9,395.4 531.1,397.5 538.2,404.8 544.4,406.4 551.5,403.4 557.7,401.6 564.8,394.5 571.9,385.1 578.6,388.4 585.0,395.2 592.4,403.1 598.9,398.6 605.5,392.1 612.3,402.2 619.0,397.7 625.6,393.3 631.8,389.8 639.2,386.2 646.0,382.1 652.7,379.3 659.3,381.8 665.5,388.9 672.2,392.8 679.3,389.2 685.9,399.2 693.0,398.3 699.2,399.2 706.3,402.7 713.0,406.3 719.6,399.9 726.6,403.1 732.8,404.5 739.5,391.5 746.6,382.7 753.2,380.2 759.4,374.1 766.5,371.5 773.2,380.7 780.3,385.1 787.1,386.4 793.6,385.1 800.7,383.4 806.9,384.3 813.7,387.3 820.2,386.6 827.3,388.2 833.5,384.3 840.6,376.3 847.4,376.8 853.9,376.6 861.0,369.7 867.2,372.4 873.5,363.7 880.6,355.3 887.0,353.0 894.2,347.4 900.6,352.3 907.7,347.8 914.1,346.4 921.6,352.0 927.6,347.1 934.0,349.2 941.1,348.2 947.5,349.5 954.3,347.4 961.4,356.3 967.7,355.6 974.5,360.6 981.6,363.7 987.6,362.7 994.7,353.9 1001.2,348.1 1008.6,354.5 1015.2,355.8 1021.8,349.0 1028.3,353.0 1035.0,348.4 1041.9,355.4 1048.4,352.0 1055.3,353.6 1062.1,352.6 1068.9,352.1 1075.5,352.6 1082.6,359.8" fill="none" stroke="#1e1e1e" stroke-width="1.15" stroke-linejoin="round"/>
</svg>
<div class="abs" style="left:10px;top:525px;font-size:10.6px;color:#9aa3b0;line-height:13px">04.01.16 - 15.08.16</div>
<div class="yl" style="top:502px">50%</div>
<div class="yl" style="top:470px">100%</div>
<div class="yl" style="top:437px">150%</div>
<div class="yl" style="top:404px">200%</div>
<div class="yl" style="top:372px">250%</div>
<div class="yl" style="top:339px">300%</div>
<div class="yl" style="top:306px">350%</div>
<div class="yl" style="top:274px">400%</div>
<div class="yl" style="top:241px">450%</div>
<div class="yl" style="top:208px">500%</div>
<div class="yl" style="top:175px">550%</div>
<div class="yl" style="top:143px">600%</div>
<div class="xl" style="left:102.5px">Feb.</div><div class="xl" style="left:243.5px">März</div><div class="xl" style="left:397.5px">April</div><div class="xl" style="left:538.5px">Mai</div><div class="xl" style="left:686.5px">Juni</div><div class="xl" style="left:834.5px">Juli</div><div class="xl" style="left:975.5px">Aug.</div>
</body>
</html>
